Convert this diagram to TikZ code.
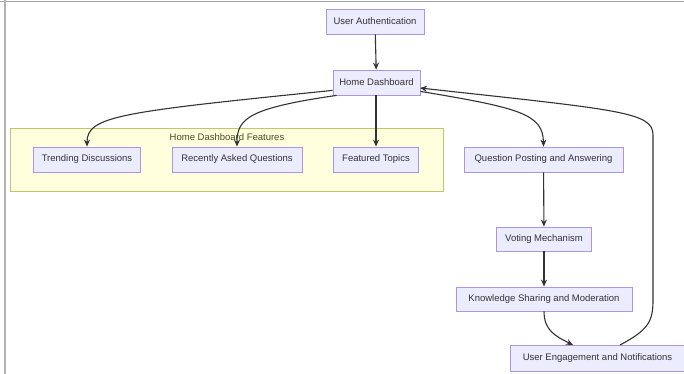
\documentclass[tikz,border=0pt]{standalone}
\usepackage{fontspec}
\setmainfont{Liberation Sans}
\usetikzlibrary{arrows.meta}
\definecolor{nodefill}{HTML}{ECECFF}
\definecolor{nodeline}{HTML}{9370DB}
\definecolor{clusterfill}{HTML}{FFFFDE}
\definecolor{clusterline}{HTML}{AAAA33}
\definecolor{edgecol}{HTML}{333333}
\definecolor{titlecol}{HTML}{4A4A20}
\begin{document}
\begin{tikzpicture}[x=1pt,y=-1pt,
  box/.style={draw=nodeline!75!white,line width=0.8pt,fill=nodefill,text=edgecol,inner sep=0pt,
    font=\fontsize{9.5}{11}\selectfont,anchor=center},
  edge/.style={draw=edgecol,line width=1.1pt,-{Stealth[length=7pt,width=6pt]}}]
\useasboundingbox (0,0) rectangle (684,374);
\fill[white] (0,0) rectangle (684,374);
% screenshot frame
\draw[gray!70,line width=1.5pt] (0,1.5) -- (684,1.5);
\draw[gray!60,line width=1.2pt] (5,0) -- (5,374);
% cluster
\node[draw=clusterline!70!white,line width=0.7pt,fill=clusterfill,minimum width=433pt,minimum height=63pt,inner sep=0pt] (cl) at (226.5,160) {};
\node[text=titlecol,font=\fontsize{9.5}{11}\selectfont] (cltitle) at (227,137) {Home Dashboard Features};
% nodes
\node[box,minimum width=98pt,minimum height=25pt] (ua) at (375,21.5) {User Authentication};
\node[box,minimum width=87pt,minimum height=25pt] (hd) at (376.5,82.5) {Home Dashboard};
\node[box,minimum width=107pt,minimum height=25pt] (td) at (87,159.5) {Trending Discussions};
\node[box,minimum width=130pt,minimum height=25pt] (raq) at (237,159.5) {Recently Asked Questions};
\node[box,minimum width=85pt,minimum height=25pt] (ft) at (376,159.5) {Featured Topics};
\node[box,minimum width=159pt,minimum height=25pt] (qpa) at (543.5,159.5) {Question Posting and Answering};
\node[box,minimum width=95pt,minimum height=24pt] (vm) at (544,239) {Voting Mechanism};
\node[box,minimum width=176pt,minimum height=24pt] (ksm) at (544,299) {Knowledge Sharing and Moderation};
\node[box,minimum width=175pt,minimum height=26pt] (uen) at (597.5,358) {User Engagement and Notifications};
% edges
\draw[edge] (ua) -- (hd);
\draw[edge] (hd.south west) ++(0,-5) coordinate (hdl1) .. controls (120,112) and (87,116) .. (td.north);
\draw[edge] (hd.south west) ++(4,0) coordinate (hdl2) .. controls (250,108) and (237,118) .. (raq.north);
\draw[edge] (hd.south -| ft.north) -- (ft.north);
\draw[edge] (hd.south east) ++(0,-4) coordinate (hdr1) .. controls (520,108) and (543,114) .. (qpa.north);
\draw[edge] (qpa) -- (vm);
\draw[edge] (vm) -- (ksm);
\draw[edge] (ksm.south) .. controls (544,330) and (555,336) .. (573,345);
\coordinate (uentop) at (620,345);
\coordinate (hdin) at (420,88);
\draw[edge] (uentop) .. controls (648,330) and (653,322) .. (653,300) -- (653,135) .. controls (653,112) and (620,110) .. (hdin);
\end{tikzpicture}
\end{document}
